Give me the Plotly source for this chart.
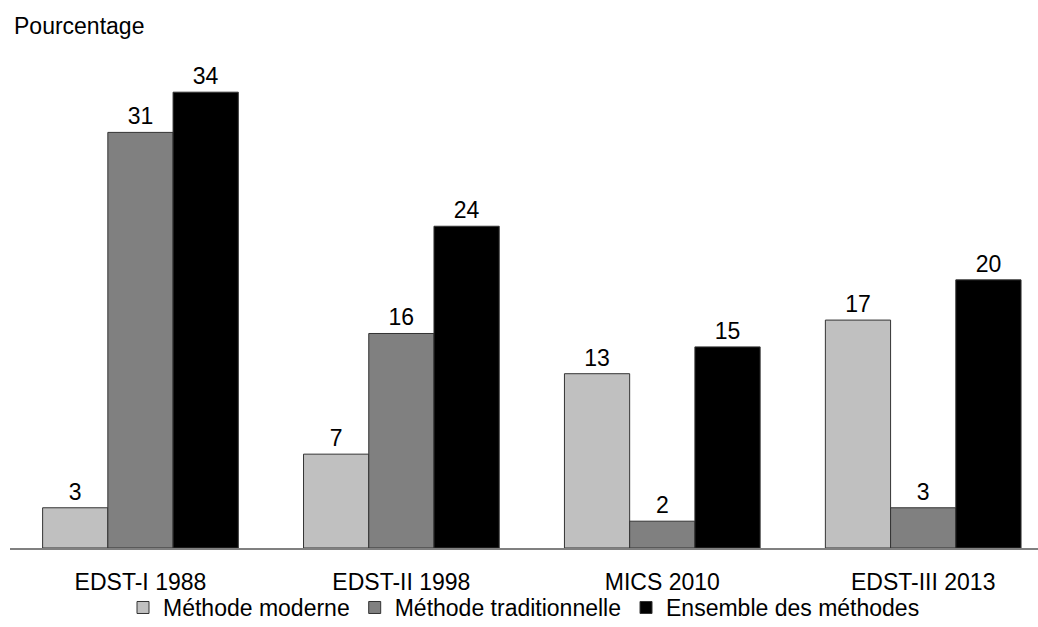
import plotly.graph_objects as go

# Données
enquetes = ["EDST-I 1988", "EDST-II 1998", "MICS 2010", "EDST-III 2013"]
moderne = [3, 7, 13, 17]
traditionnelle = [31, 16, 2, 3]
ensemble = [34, 24, 15, 20]

series = [
    ("Méthode moderne", moderne, "#c0c0c0"),
    ("Méthode traditionnelle", traditionnelle, "#808080"),
    ("Ensemble des méthodes", ensemble, "#000000"),
]

fig = go.Figure()
for nom, vals, couleur in series:
    fig.add_trace(go.Bar(
        name=nom,
        x=enquetes,
        y=vals,
        marker_color=couleur,
        marker_line_color="#333333",
        marker_line_width=1,
        text=vals,
        textposition="outside",
        textfont=dict(size=23, color="black"),
        cliponaxis=False,
    ))

fig.update_layout(
    width=1038,
    height=627,
    margin=dict(l=10, r=0, t=60, b=79, autoexpand=False),
    plot_bgcolor="white",
    paper_bgcolor="white",
    font=dict(family="Liberation Sans, Arial, sans-serif", size=23, color="black"),
    barmode="group",
    bargap=0.25,
    bargroupgap=0,
    showlegend=True,
    legend=dict(
        orientation="h",
        x=0.5, xanchor="center",
        y=-0.122, yanchor="middle",
        font=dict(size=23),
        bgcolor="rgba(0,0,0,0)",
        itemwidth=30,
        traceorder="normal",
    ),
    annotations=[dict(
        text="Pourcentage",
        xref="paper", yref="paper",
        x=0.002, y=1.07,
        xanchor="left", yanchor="middle",
        showarrow=False,
        font=dict(size=23),
    )],
)

fig.update_xaxes(
    range=[-0.5, 3.44],
    showline=True, linecolor="#808080", linewidth=1.5,
    ticks="", showgrid=False,
    ticklabelstandoff=13,
    automargin=False,
)
fig.update_yaxes(
    range=[0, 36.4],
    showticklabels=False, showgrid=False, zeroline=False, ticks="",
)

# pas de marge autour du graphique dans la page
fig.write_html("out.html", config={"displayModeBar": False},
               post_script="document.body.style.margin='0';")
